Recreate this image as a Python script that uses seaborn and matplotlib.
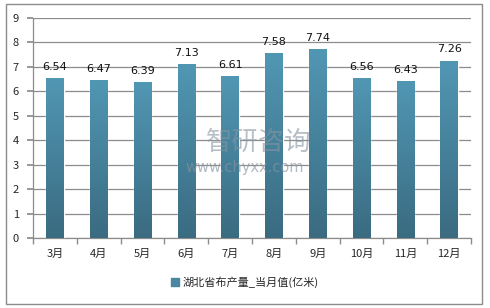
import numpy as np
import pandas as pd
import matplotlib
matplotlib.use("Agg")
import matplotlib.pyplot as plt
import seaborn as sns
from matplotlib.patches import Rectangle

months = ["3月", "4月", "5月", "6月", "7月", "8月", "9月", "10月", "11月", "12月"]
values = [6.54, 6.47, 6.39, 7.13, 6.61, 7.58, 7.74, 6.56, 6.43, 7.26]
series_name = "湖北省布产量_当月值(亿米)"

df = pd.DataFrame({"month": months, "value": values})

sns.set_theme(style="white")
plt.rcParams["font.family"] = ["Noto Sans CJK SC", "DejaVu Sans"]

fig = plt.figure(figsize=(4.9, 3.08), dpi=100)
ax = fig.add_axes([0.0673, 0.227, 0.894, 0.7146])

sns.barplot(data=df, x="month", y="value", color="#4a87a2", width=0.4,
            saturation=1, ax=ax, zorder=3)

# vertical gradient inside each bar
grad = np.linspace(0, 1, 256).reshape(-1, 1)
cmap = matplotlib.colors.LinearSegmentedColormap.from_list("g", ["#3a6b81", "#5197b4"])
for bar in ax.patches:
    x0, w, h = bar.get_x(), bar.get_width(), bar.get_height()
    im = ax.imshow(grad, extent=[x0, x0 + w, 0, h], origin="lower", cmap=cmap,
                   aspect="auto", zorder=4)
    im.set_clip_path(bar)
    ax.text(x0 + w / 2, h + 0.25, f"{h:.2f}", ha="center", va="bottom",
            fontsize=8, color="#111111", family="DejaVu Sans", zorder=5)

ax.set_xlim(-0.5, len(months) - 0.5)
ax.set_ylim(0, 9)
ax.set_yticks(range(0, 10))
ax.yaxis.grid(True, color="#8c8c8c", linewidth=0.9, zorder=0)
ax.set_axisbelow(True)
ax.set_xlabel("")
ax.set_ylabel("")
for s in ["top", "right"]:
    ax.spines[s].set_visible(False)
for s in ["left", "bottom"]:
    ax.spines[s].set_color("#8c8c8c")
    ax.spines[s].set_linewidth(0.9)

ax.set_xticks(np.arange(-0.5, len(months), 1), minor=True)
ax.tick_params(axis="x", which="minor", length=4, color="#8c8c8c", bottom=True)
ax.tick_params(axis="x", which="major", length=0, labelsize=8, pad=8)
ax.tick_params(axis="y", length=0, labelsize=8, pad=6)
ax.tick_params(axis="y", which="major", left=True, length=4, color="#8c8c8c")

# watermark
fig.text(0.527, 0.538, "智研咨询", fontsize=19, color="#8795a0", alpha=0.6,
         ha="center", va="center", zorder=10)
fig.text(0.50, 0.457, "www.chyxx.com", fontsize=10.5, color="#8795a0", alpha=0.65,
         ha="center", va="center", family="DejaVu Sans", zorder=10)

# legend
handle = Rectangle((0, 0), 1, 1, color="#4a87a2")
fig.legend([handle], [series_name], loc="center", bbox_to_anchor=(0.5, 0.083),
           frameon=False, fontsize=8, handlelength=0.7, handleheight=0.7,
           handletextpad=0.3)

# outer border
fig.patches.append(Rectangle((0.012, 0.012), 0.972, 0.975, transform=fig.transFigure,
                             fill=False, edgecolor="#8c8c8c", linewidth=1.0))

fig.savefig("out.png", dpi=100)
